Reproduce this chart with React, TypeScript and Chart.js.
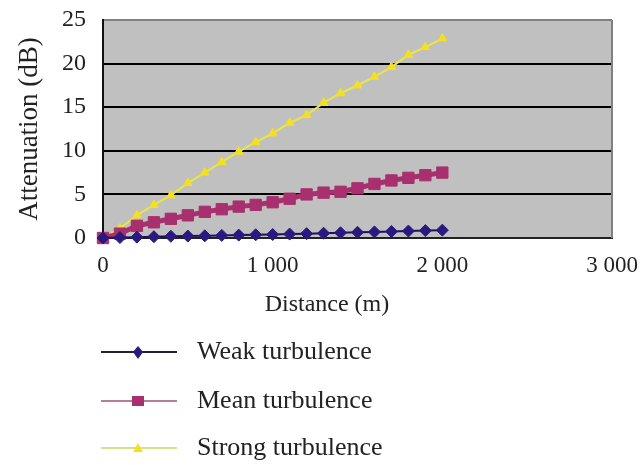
import React, { useEffect, useRef } from "react";
import { Chart, registerables } from "chart.js";

Chart.register(...registerables);

const distances = [0, 100, 200, 300, 400, 500, 600, 700, 800, 900, 1000, 1100, 1200, 1300, 1400, 1500, 1600, 1700, 1800, 1900, 2000];
const weakTurbulence = [0, 0.05, 0.1, 0.15, 0.2, 0.22, 0.25, 0.3, 0.33, 0.37, 0.4, 0.45, 0.5, 0.55, 0.6, 0.65, 0.7, 0.75, 0.8, 0.85, 0.9];
const meanTurbulence = [0, 0.5, 1.4, 1.8, 2.2, 2.6, 3.0, 3.3, 3.6, 3.8, 4.1, 4.5, 5.0, 5.2, 5.3, 5.7, 6.2, 6.6, 6.9, 7.2, 7.5];
const strongTurbulence = [0, 1.1, 2.6, 3.8, 4.9, 6.3, 7.5, 8.7, 9.9, 11.0, 12.0, 13.2, 14.1, 15.5, 16.6, 17.5, 18.5, 19.6, 21.0, 21.9, 22.9];
const seriesLabels = ["Weak turbulence", "Mean turbulence", "Strong turbulence"];
const yTicks = [0, 5, 10, 15, 20, 25];
const xTicks = [0, 1000, 2000, 3000];
const xTitle = "Distance (m)";
const yTitle = "Attenuation (dB)";

const FONT = "'Liberation Serif', 'Times New Roman', serif";

const styles = [
  { line: "#1a1060", fill: "#2a1a80", point: "rectRot", radius: 6, width: 2, legendLine: "#222233", legendW: 2 },
  { line: "#a8306e", fill: "#a8306e", point: "rect", radius: 8, width: 5, legendLine: "#a0507a", legendW: 1.5 },
  { line: "#e8e840", fill: "#f5e020", point: "triangle", radius: 5, width: 2, legendLine: "#c8d860", legendW: 1.5 },
];

const decorPlugin = {
  id: "decor",
  beforeDraw(chart: any) {
    const { ctx, chartArea } = chart;
    ctx.save();
    ctx.fillStyle = "#c0c0c0";
    ctx.fillRect(chartArea.left, chartArea.top, chartArea.right - chartArea.left, chartArea.bottom - chartArea.top);
    ctx.restore();
  },
  afterDraw(chart: any) {
    const { ctx, chartArea } = chart;
    ctx.save();
    ctx.strokeStyle = "#808080";
    ctx.lineWidth = 2;
    ctx.beginPath();
    ctx.moveTo(chartArea.right, chartArea.top);
    ctx.lineTo(chartArea.right, chartArea.bottom);
    ctx.stroke();
    ctx.fillStyle = "#222";
    ctx.font = `24px ${FONT}`;
    ctx.textAlign = "center";
    ctx.textBaseline = "middle";
    const cx = chartArea.left + (chartArea.right - chartArea.left) * 0.44;
    ctx.fillText(xTitle, cx, chartArea.bottom + 67);
    const rowY = [352, 401, 448];
    const x0 = chartArea.left - 2;
    const x1 = chartArea.left + 74;
    const mx = chartArea.left + 35;
    ctx.font = `26px ${FONT}`;
    seriesLabels.forEach((label, i) => {
      const s = styles[i];
      const y = rowY[i];
      ctx.strokeStyle = s.legendLine;
      ctx.lineWidth = s.legendW;
      ctx.beginPath();
      ctx.moveTo(x0, y);
      ctx.lineTo(x1, y);
      ctx.stroke();
      ctx.fillStyle = s.fill;
      ctx.beginPath();
      if (s.point === "rectRot") {
        ctx.moveTo(mx, y - 6);
        ctx.lineTo(mx + 5, y);
        ctx.lineTo(mx, y + 7);
        ctx.lineTo(mx - 5, y);
      } else if (s.point === "rect") {
        ctx.rect(mx - 6, y - 5, 12, 10);
      } else {
        ctx.moveTo(mx, y - 5);
        ctx.lineTo(mx + 5, y + 4);
        ctx.lineTo(mx - 5, y + 4);
      }
      ctx.closePath();
      ctx.fill();
      ctx.fillStyle = "#222";
      ctx.textAlign = "left";
      ctx.fillText(label, chartArea.left + 94, y);
    });
    ctx.restore();
  },
};

export default function App() {
  const ref = useRef<HTMLCanvasElement>(null);
  useEffect(() => {
    if (!ref.current) return;
    const series = [weakTurbulence, meanTurbulence, strongTurbulence];
    const chart = new Chart(ref.current, {
      type: "line",
      data: {
        datasets: series.map((vals, i) => ({
          label: seriesLabels[i],
          data: distances.map((d, j) => ({ x: d, y: vals[j] })),
          borderColor: styles[i].line,
          backgroundColor: styles[i].fill,
          borderWidth: styles[i].width,
          pointStyle: styles[i].point as any,
          pointRadius: styles[i].radius,
          pointBorderColor: styles[i].fill,
          pointBackgroundColor: styles[i].fill,
          pointBorderWidth: 1,
          tension: 0,
          clip: false as any,
        })),
      },
      options: {
        responsive: false,
        animation: false,
        devicePixelRatio: 1,
        layout: { padding: { top: 20, right: 32, bottom: 142, left: 0 } },
        plugins: { legend: { display: false }, tooltip: { enabled: false } },
        scales: {
          x: {
            type: "linear",
            min: 0,
            max: 3000,
            afterBuildTicks: (s: any) => { s.ticks = xTicks.map((v) => ({ value: v })); },
            afterFit: (s: any) => { s.height = 85; s.paddingLeft = 0; s.paddingRight = 0; },
            grid: { display: false, drawTicks: false },
            border: { display: true, color: "#222", width: 2 },
            ticks: {
              color: "#222",
              padding: 14,
              maxRotation: 0,
              autoSkip: false,
              font: { family: FONT, size: 23 },
              callback: (v: any) => String(v).replace(/\B(?=(\d{3})+(?!\d))/g, " "),
            },
          },
          y: {
            min: 0,
            max: 25,
            afterBuildTicks: (s: any) => { s.ticks = yTicks.map((v) => ({ value: v })); },
            afterFit: (s: any) => { s.width = 103; s.paddingTop = 0; s.paddingBottom = 0; },
            grid: {
              drawTicks: false,
              color: (c: any) => (c.tick && c.tick.value === 25 ? "#808080" : "#000"),
              lineWidth: 2,
            },
            border: { display: true, color: "#111", width: 2 },
            ticks: { color: "#222", padding: 17, font: { family: FONT, size: 24 } },
            title: {
              display: true,
              text: yTitle,
              color: "#222",
              font: { family: FONT, size: 27 },
              padding: { top: 14, bottom: 0 },
            },
          },
        },
      },
      plugins: [decorPlugin],
    });
    return () => chart.destroy();
  }, []);
  return (
    <div style={{ position: "absolute", left: 0, top: 0, width: 644, height: 465, background: "#fff" }}>
      <canvas ref={ref} width={644} height={465} />
    </div>
  );
}
